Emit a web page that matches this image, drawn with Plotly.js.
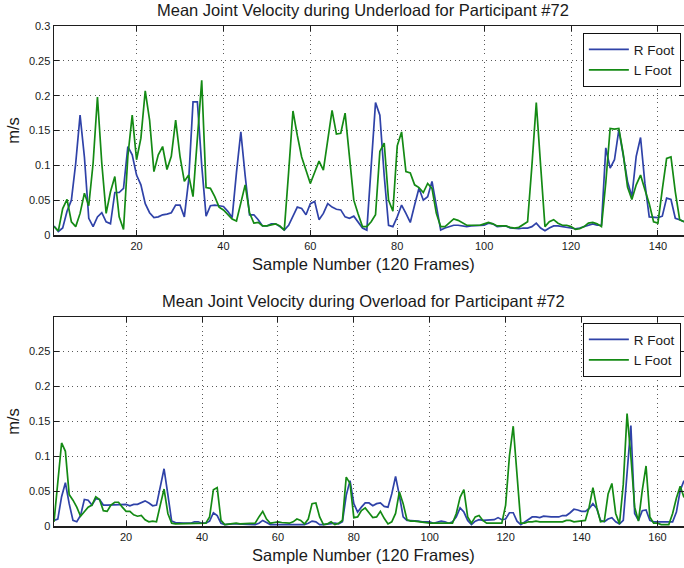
<!DOCTYPE html>
<html>
<head>
<meta charset="utf-8">
<script src="https://cdn.plot.ly/plotly-3.0.1.min.js"></script>
<style>html,body{margin:0;padding:0;background:#fff;}#chart{width:684px;height:568px;}</style>
</head>
<body>
<div id="chart"></div>
<script>
// ---- Data ----
var seriesNames = ['R Foot', 'L Foot'];

var underloadRFoot = [
0.013,0.005,0.010,0.034,0.050,0.103,0.172,0.112,0.024,0.012,
0.026,0.032,0.019,0.016,0.061,0.061,0.067,0.127,0.115,0.086,
0.072,0.045,0.032,0.025,0.026,0.029,0.030,0.032,0.043,0.043,
0.026,0.079,0.191,0.191,0.100,0.027,0.042,0.043,0.042,0.041,
0.034,0.025,0.090,0.148,0.085,0.029,0.029,0.022,0.013,0.013,
0.016,0.016,0.012,0.007,0.014,0.026,0.040,0.038,0.029,0.045,
0.048,0.022,0.031,0.045,0.040,0.037,0.036,0.026,0.024,0.027,
0.019,0.010,0.007,0.100,0.190,0.172,0.085,0.014,0.012,0.026,
0.043,0.031,0.018,0.043,0.067,0.050,0.055,0.077,0.041,0.007,
0.010,0.012,0.014,0.014,0.013,0.012,0.013,0.013,0.013,0.014,
0.017,0.016,0.012,0.013,0.013,0.010,0.009,0.009,0.010,0.010,
0.012,0.017,0.010,0.006,0.010,0.013,0.013,0.012,0.012,0.011,
0.009,0.010,0.012,0.014,0.016,0.014,0.014,0.125,0.096,0.108,
0.151,0.115,0.077,0.055,0.113,0.140,0.074,0.026,0.025,0.025,
0.027,0.053,0.051,0.024,0.022,0.019];

var underloadLFoot = [
0.012,0.006,0.038,0.051,0.019,0.012,0.031,0.060,0.042,0.103,
0.198,0.103,0.031,0.062,0.084,0.026,0.008,0.113,0.172,0.108,
0.139,0.207,0.165,0.091,0.115,0.127,0.094,0.113,0.165,0.113,
0.077,0.086,0.055,0.140,0.222,0.068,0.067,0.055,0.040,0.036,
0.029,0.023,0.020,0.045,0.072,0.032,0.017,0.018,0.013,0.013,
0.015,0.016,0.013,0.007,0.090,0.178,0.143,0.112,0.093,0.074,
0.090,0.106,0.093,0.136,0.179,0.145,0.146,0.175,0.108,0.050,
0.030,0.012,0.012,0.019,0.029,0.120,0.132,0.050,0.034,0.128,
0.148,0.091,0.089,0.072,0.068,0.061,0.074,0.067,0.031,0.012,
0.012,0.017,0.023,0.021,0.017,0.014,0.014,0.014,0.014,0.016,
0.018,0.016,0.013,0.013,0.013,0.011,0.010,0.011,0.015,0.019,
0.100,0.190,0.100,0.012,0.019,0.022,0.017,0.014,0.014,0.012,
0.008,0.009,0.012,0.017,0.018,0.016,0.012,0.075,0.153,0.152,
0.153,0.117,0.069,0.051,0.072,0.086,0.065,0.045,0.019,0.017,
0.065,0.110,0.112,0.062,0.022,0.019];

var overloadRFoot = [
0.008,0.010,0.042,0.062,0.032,0.008,0.006,0.015,0.038,0.037,
0.030,0.039,0.038,0.030,0.030,0.030,0.030,0.030,0.031,0.031,
0.029,0.031,0.031,0.033,0.036,0.033,0.029,0.030,0.055,0.082,
0.045,0.007,0.005,0.004,0.004,0.004,0.004,0.006,0.006,0.004,
0.004,0.007,0.019,0.015,0.004,0.002,0.003,0.003,0.003,0.003,
0.002,0.003,0.002,0.002,0.004,0.008,0.005,0.002,0.002,0.002,
0.002,0.002,0.002,0.002,0.003,0.002,0.002,0.004,0.007,0.006,
0.002,0.002,0.003,0.004,0.004,0.003,0.006,0.044,0.065,0.032,
0.020,0.027,0.033,0.033,0.029,0.032,0.033,0.028,0.027,0.046,
0.071,0.044,0.013,0.008,0.008,0.008,0.007,0.006,0.006,0.006,
0.004,0.006,0.007,0.006,0.004,0.006,0.013,0.026,0.020,0.008,
0.002,0.007,0.009,0.008,0.008,0.009,0.009,0.012,0.009,0.010,
0.019,0.019,0.007,0.002,0.006,0.009,0.013,0.013,0.012,0.014,
0.013,0.013,0.013,0.013,0.015,0.015,0.019,0.024,0.023,0.021,
0.021,0.025,0.032,0.025,0.008,0.006,0.010,0.012,0.006,0.003,
0.008,0.080,0.144,0.018,0.008,0.022,0.023,0.008,0.006,0.006,
0.006,0.006,0.006,0.006,0.020,0.051,0.065];

var overloadLFoot = [
0.006,0.060,0.119,0.107,0.045,0.037,0.027,0.014,0.021,0.027,
0.030,0.042,0.038,0.022,0.021,0.030,0.034,0.034,0.027,0.021,
0.021,0.016,0.014,0.015,0.009,0.006,0.007,0.006,0.030,0.053,
0.018,0.004,0.003,0.003,0.003,0.003,0.003,0.003,0.003,0.004,
0.004,0.013,0.052,0.055,0.008,0.002,0.003,0.004,0.004,0.003,
0.003,0.004,0.004,0.004,0.013,0.021,0.010,0.004,0.005,0.006,
0.005,0.005,0.004,0.006,0.010,0.008,0.003,0.010,0.032,0.033,
0.013,0.002,0.003,0.006,0.002,0.004,0.008,0.070,0.061,0.012,
0.013,0.022,0.026,0.019,0.012,0.013,0.021,0.011,0.003,0.006,
0.018,0.049,0.032,0.009,0.007,0.007,0.006,0.005,0.004,0.004,
0.004,0.004,0.004,0.004,0.004,0.004,0.018,0.041,0.052,0.013,
0.004,0.013,0.015,0.008,0.004,0.004,0.004,0.004,0.004,0.030,
0.100,0.143,0.070,0.004,0.004,0.006,0.006,0.007,0.006,0.006,
0.006,0.007,0.006,0.007,0.006,0.008,0.008,0.006,0.007,0.008,
0.008,0.027,0.055,0.027,0.006,0.007,0.046,0.061,0.018,0.003,
0.060,0.161,0.100,0.027,0.007,0.051,0.086,0.013,0.004,0.004,
0.002,0.002,0.002,0.018,0.040,0.057,0.041];

var topXTicks = [20, 40, 60, 80, 100, 120, 140];
var bottomXTicks = [20, 40, 60, 80, 100, 120, 140, 160];
var topYTicks = [0, 0.05, 0.1, 0.15, 0.2, 0.25, 0.3];
var topYTickText = ['0', '0.05', '0.1', '0.15', '0.2', '0.25', '0.3'];
var bottomYTicks = [0, 0.05, 0.1, 0.15, 0.2, 0.25];
var bottomYTickText = ['0', '0.05', '0.1', '0.15', '0.2', '0.25'];

var titleTop = 'Mean Joint Velocity during Underload for Participant #72';
var titleBottom = 'Mean Joint Velocity during Overload for Participant #72';
var xLabel = 'Sample Number (120 Frames)';
var yLabel = 'm/s';

// ---- Build ----
function idx(n) { var a = []; for (var i = 1; i <= n; i++) a.push(i); return a; }

var BLUE = '#2f42a8';
var GREEN = '#148a14';
var FONT = 'Liberation Sans, Arial, Helvetica, sans-serif';

var traces = [
  {x: idx(underloadRFoot.length), y: underloadRFoot, name: seriesNames[0], type: 'scatter', mode: 'lines',
   line: {color: BLUE, width: 1.7}, xaxis: 'x', yaxis: 'y', legend: 'legend'},
  {x: idx(underloadLFoot.length), y: underloadLFoot, name: seriesNames[1], type: 'scatter', mode: 'lines',
   line: {color: GREEN, width: 1.7}, xaxis: 'x', yaxis: 'y', legend: 'legend'},
  {x: idx(overloadRFoot.length), y: overloadRFoot, name: seriesNames[0], type: 'scatter', mode: 'lines',
   line: {color: BLUE, width: 1.7}, xaxis: 'x2', yaxis: 'y2', legend: 'legend2'},
  {x: idx(overloadLFoot.length), y: overloadLFoot, name: seriesNames[1], type: 'scatter', mode: 'lines',
   line: {color: GREEN, width: 1.7}, xaxis: 'x2', yaxis: 'y2', legend: 'legend2'}
];

function axisBase() {
  return {
    showline: true, linecolor: '#1e1e1e', linewidth: 1.5, mirror: 'ticks',
    ticks: 'inside', ticklen: 5, tickwidth: 1, tickcolor: '#1e1e1e',
    showgrid: true, gridcolor: '#5a5a5a', gridwidth: 1, griddash: '1px,3.5px',
    zeroline: false, tickfont: {family: FONT, size: 11, color: '#1a1a1a'},
    fixedrange: true
  };
}

var xa = axisBase(); xa.domain = [0, 1]; xa.anchor = 'y'; xa.range = [1, underloadRFoot.length];
xa.tickmode = 'array'; xa.tickvals = topXTicks;
var ya = axisBase(); ya.domain = [0.582, 1]; ya.anchor = 'x'; ya.range = [0, 0.3];
ya.tickmode = 'array'; ya.tickvals = topYTicks; ya.ticktext = topYTickText;
ya.title = {text: yLabel, font: {family: FONT, size: 16.5, color: '#1a1a1a'}, standoff: 5};

var xb = axisBase(); xb.domain = [0, 1]; xb.anchor = 'y2'; xb.range = [1, overloadRFoot.length];
xb.tickmode = 'array'; xb.tickvals = bottomXTicks;
var yb = axisBase(); yb.domain = [0, 0.418]; yb.anchor = 'x2'; yb.range = [0, 0.2995];
yb.tickmode = 'array'; yb.tickvals = bottomYTicks; yb.ticktext = bottomYTickText;
yb.title = {text: yLabel, font: {family: FONT, size: 16.5, color: '#1a1a1a'}, standoff: 5};

function legendBox(yTop) {
  return {x: 0.995, xanchor: 'right', y: yTop, yanchor: 'top', bgcolor: '#ffffff',
    bordercolor: '#111111', borderwidth: 1, font: {family: FONT, size: 13.5, color: '#1a1a1a'},
    itemwidth: 40, tracegroupgap: 0};
}

var titleFont = {family: FONT, size: 16.5, color: '#1a1a1a'};
var layout = {
  width: 684, height: 568,
  margin: {l: 54, r: 0, t: 26, b: 42, pad: 0},
  paper_bgcolor: '#ffffff', plot_bgcolor: '#ffffff',
  font: {family: FONT, color: '#1a1a1a'},
  xaxis: xa, yaxis: ya, xaxis2: xb, yaxis2: yb,
  showlegend: true,
  legend: legendBox(0.986),
  legend2: legendBox(0.406),
  annotations: [
    {text: titleTop, xref: 'paper', yref: 'paper', x: 0.4905, y: 1.0314, xanchor: 'center', yanchor: 'middle', showarrow: false, font: titleFont},
    {text: xLabel, xref: 'paper', yref: 'paper', x: 0.4905, y: 0.524, xanchor: 'center', yanchor: 'middle', showarrow: false, font: titleFont},
    {text: titleBottom, xref: 'paper', yref: 'paper', x: 0.4905, y: 0.4494, xanchor: 'center', yanchor: 'middle', showarrow: false, font: titleFont},
    {text: xLabel, xref: 'paper', yref: 'paper', x: 0.4905, y: -0.0574, xanchor: 'center', yanchor: 'middle', showarrow: false, font: titleFont}
  ]
};

Plotly.newPlot('chart', traces, layout, {displayModeBar: false, staticPlot: true});
</script>
</body>
</html>
